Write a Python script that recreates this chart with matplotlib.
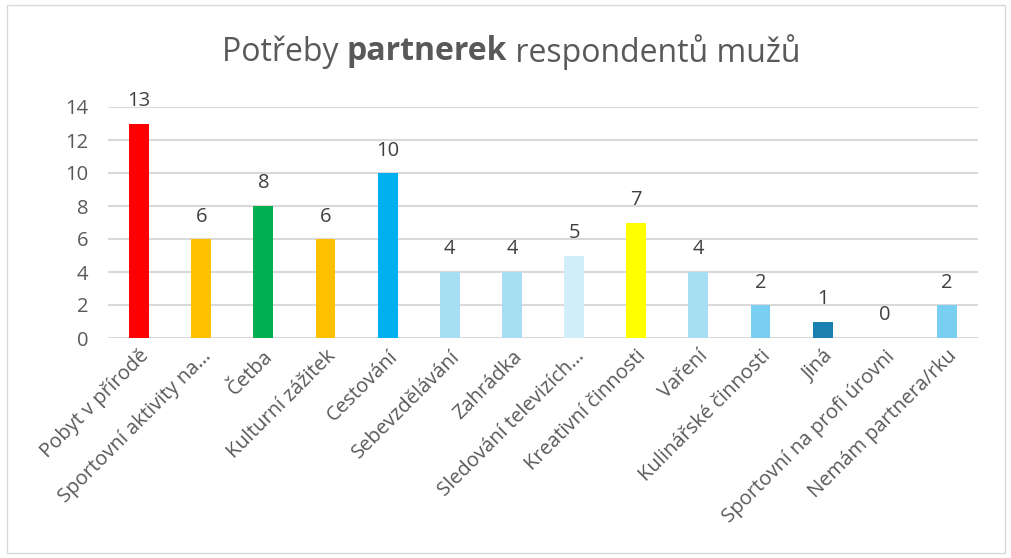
import matplotlib
matplotlib.use("Agg")
import matplotlib.pyplot as plt
from matplotlib.patches import Rectangle

categories = ["Pobyt v přírodě", "Sportovní aktivity na…", "Četba", "Kulturní zážitek",
              "Cestování", "Sebevzdělávání", "Zahrádka", "Sledování televizích…",
              "Kreativní činnosti", "Vaření", "Kulinářské činnosti", "Jiná",
              "Sportovní na profi úrovni", "Nemám partnera/rku"]
values = [13, 6, 8, 6, 10, 4, 4, 5, 7, 4, 2, 1, 0, 2]
colors = ["#FF0000", "#FFC000", "#00B050", "#FFC000", "#00B0F0", "#A7DEF3", "#A7DEF3",
          "#D2EEF9", "#FFFF00", "#A7DEF3", "#79CFEF", "#1A80B0", "#79CFEF", "#79CFEF"]
yticks = [0, 2, 4, 6, 8, 10, 12, 14]
title_parts = [("Potřeby ", "normal"), ("partnerek", "bold"), (" respondentů mužů", "normal")]

FONT = ["Open Sans", "DejaVu Sans"]
TXT = "#595959"
FS = 14.5

fig = plt.figure(figsize=(10.12, 5.58), dpi=100)
fig.patches.append(Rectangle((7/1012, 5/558), 998/1012, 548/558, transform=fig.transFigure,
                             fill=False, edgecolor="#D9D9D9", linewidth=1.0))
ax = fig.add_axes([108/1012, 1-338/558, 870/1012, 231/558])
x = list(range(len(categories)))
ax.bar(x, values, width=0.32, color=colors, zorder=3)
ax.set_xlim(-0.5, len(categories)-0.5)
ax.set_ylim(0, 14)
ax.set_yticks(yticks)
ax.set_yticklabels([str(t) for t in yticks], fontsize=FS, color=TXT, family=FONT)
ax.yaxis.grid(True, color="#D9D9D9", linewidth=1.5, zorder=0)
ax.set_axisbelow(True)
for s in ax.spines.values():
    s.set_visible(False)
ax.tick_params(axis="both", length=0)
ax.tick_params(axis="y", pad=14)
ax.set_xticks(x)
ax.set_xticklabels(categories, rotation=45, ha="right", rotation_mode="anchor",
                   fontsize=FS, color=TXT, family=FONT)
ax.tick_params(axis="x", pad=6)
for xi, v in zip(x, values):
    ax.annotate(str(v), (xi, v), xytext=(0, 9), textcoords="offset points",
                ha="center", va="bottom", fontsize=FS, color="#404040", family=FONT,
                clip_on=False)

# title with mixed weight
fig.canvas.draw()
r = fig.canvas.get_renderer()
texts = []
for s, w in title_parts:
    t = fig.text(0, 1-52/558, s, fontsize=23, fontweight=w, color=TXT, family=FONT,
                 va="center", ha="left")
    texts.append(t)
widths = [t.get_window_extent(r).width for t in texts]
total = sum(widths)
xs = 511 - total/2
for t, w in zip(texts, widths):
    t.set_x(xs/1012)
    xs += w

fig.savefig("out.png", dpi=100)
